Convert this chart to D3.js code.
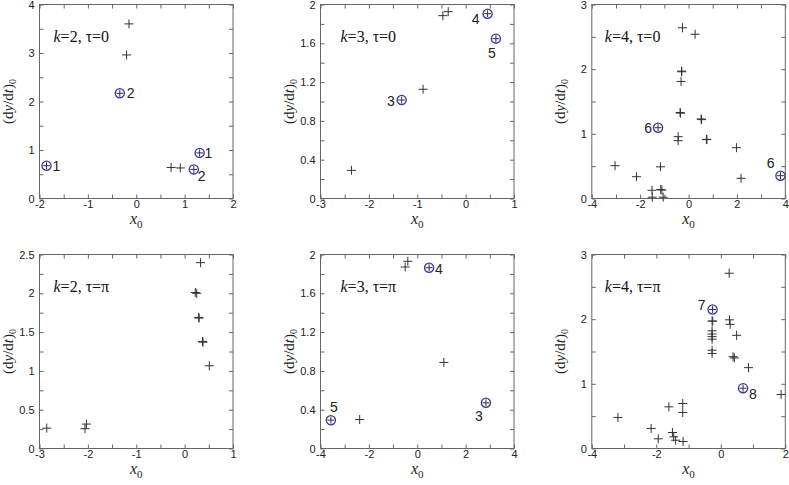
<!DOCTYPE html>
<html>
<head>
<meta charset="utf-8">
<script src="https://cdn.jsdelivr.net/npm/d3@7"></script>
<style>
  body { margin: 0; background: #fff; }
  .tick text { font-family: "Liberation Sans", Arial, sans-serif; font-size: 11px; fill: #222; }
  .tick line { stroke: #666; }
</style>
</head>
<body>
<svg id="chart" width="789" height="485"></svg>
<script>
// panel titles
const titleK = ["2", "3", "4", "2", "3", "4"];
const titleTau = ["0", "0", "0", "π", "π", "π"];

// axis ranges and tick steps [major, minor]
const xDomains = [[-2, 2], [-3, 1], [-4, 4], [-3, 1], [-4, 4], [-4, 2]];
const yDomains = [[0, 4], [0, 2], [0, 3], [0, 2.5], [0, 2], [0, 3]];
const xSteps = [[1, 0.5], [1, 0.5], [2, 1], [1, 0.5], [2, 1], [2, 1]];
const ySteps = [[1, 0.5], [0.4, 0.2], [1, 0.5], [0.5, 0.25], [0.4, 0.2], [1, 0.5]];

// "+" points, [x0, (dy/dt)0]
const plus1 = [[-0.15, 3.6], [-0.2, 2.96], [0.72, 0.64], [0.91, 0.63]];
const plus2 = [[-0.47, 1.885], [-0.36, 1.926], [-0.88, 1.126], [-2.36, 0.29]];
const plus3 = [[-0.25, 2.64], [0.27, 2.54], [-0.29, 1.97], [-0.28, 1.96], [-0.31, 1.81],
  [-0.35, 1.33], [-0.33, 1.32], [0.52, 1.23], [0.54, 1.22], [-0.43, 0.956], [-0.43, 0.894],
  [0.74, 0.915], [0.76, 0.91], [1.98, 0.786], [2.17, 0.312], [-3.04, 0.507], [-2.15, 0.337],
  [-1.16, 0.49], [-1.51, 0.127], [-1.15, 0.14], [-1.1, 0.13], [-1.5, 0.02], [-1.05, 0.02]];
const plus4 = [[-2.85, 0.262], [-2.03, 0.315], [-2.06, 0.255], [0.33, 2.395], [0.22, 2.01],
  [0.25, 2.0], [0.29, 1.69], [0.3, 1.68], [0.37, 1.38], [0.38, 1.37], [0.51, 1.066]];
const plus5 = [[-0.5, 1.871], [-0.39, 1.93], [1.1, 0.887], [-2.38, 0.299]];
const plus6 = [[0.26, 2.71], [-0.27, 1.97], [-0.25, 1.97], [-0.27, 1.82], [-0.27, 1.77],
  [-0.27, 1.73], [-0.27, 1.69], [-0.27, 1.52], [-0.27, 1.47], [0.27, 1.99], [0.29, 1.92],
  [0.49, 1.75], [0.38, 1.42], [0.42, 1.4], [0.86, 1.25], [1.87, 0.836], [-3.19, 0.48],
  [-1.61, 0.644], [-1.18, 0.696], [-1.18, 0.557], [-2.16, 0.31], [-1.94, 0.15],
  [-1.5, 0.247], [-1.46, 0.18], [-1.4, 0.128], [-1.17, 0.108]];

// circled points, [x0, (dy/dt)0, label]
const circ1 = [[-1.855, 0.676, "1"], [-0.34, 2.17, "2"], [1.31, 0.94, "1"], [1.19, 0.6, "2"]];
const circ2 = [[0.454, 1.905, "4"], [0.626, 1.648, "5"], [-1.322, 1.015, "3"]];
const circ3 = [[-1.26, 1.095, "6"], [3.8, 0.353, "6"]];
const circ4 = [];
const circ5 = [[0.49, 1.864, "4"], [2.84, 0.471, "3"], [-3.57, 0.292, "5"]];
const circ6 = [[-0.255, 2.15, "7"], [0.69, 0.933, "8"]];

const plusSets = [plus1, plus2, plus3, plus4, plus5, plus6];
const circSets = [circ1, circ2, circ3, circ4, circ5, circ6];

// where each circle label sits: [dx, dy, anchor]
const labelPlace = [
  [[6, 5, "start"], [7, 5, "start"], [5, 5, "start"], [4, 12, "start"]],
  [[-8, 10, "end"], [-4, 19, "middle"], [-7, 6, "end"]],
  [[-6, 5, "end"], [-6, -8, "end"]],
  [],
  [[6, 6, "start"], [-7, 18, "middle"], [3, -8, "middle"]],
  [[-7, 1, "end"], [6, 11, "start"]]
];

const colLeft = [39.5, 320.5, 591.8];
const rowTop = [4.5, 254.5];
const pw = 193.5, ph = 194;

const svg = d3.select("#chart");

function steps(dom, step) {
  const n = Math.round((dom[1] - dom[0]) / step);
  return d3.range(n + 1).map(i => +(dom[0] + i * step).toFixed(4));
}
function isMajor(v, dom, major) {
  const q = (v - dom[0]) / major;
  return Math.abs(q - Math.round(q)) < 1e-6;
}
const fmt = v => String(+v.toFixed(2));

function plusPath(size) {
  const h = size / 2;
  return `M${-h},0H${h}M0,${-h}V${h}`;
}

for (let i = 0; i < 6; i++) {
  const left = colLeft[i % 3], top = rowTop[Math.floor(i / 3)];
  const g = svg.append("g").attr("transform", `translate(${left},${top})`);

  const x = d3.scaleLinear().domain(xDomains[i]).range([0, pw]);
  const y = d3.scaleLinear().domain(yDomains[i]).range([ph, 0]);

  const xt = steps(xDomains[i], xSteps[i][1]);
  const yt = steps(yDomains[i], ySteps[i][1]);
  const xf = v => isMajor(v, xDomains[i], xSteps[i][0]) ? fmt(v) : "";
  const yf = v => isMajor(v, yDomains[i], ySteps[i][0]) ? fmt(v) : "";

  g.append("g").attr("transform", `translate(0,${ph})`)
    .call(d3.axisBottom(x).tickValues(xt).tickFormat(xf).tickSizeInner(-4).tickSizeOuter(0).tickPadding(2))
    .call(a => a.select(".domain").remove());
  g.append("g")
    .call(d3.axisTop(x).tickValues(xt).tickFormat("").tickSizeInner(-4).tickSizeOuter(0))
    .call(a => a.select(".domain").remove());
  g.append("g")
    .call(d3.axisLeft(y).tickValues(yt).tickFormat(yf).tickSizeInner(-4).tickSizeOuter(0).tickPadding(5))
    .call(a => a.select(".domain").remove());
  g.append("g").attr("transform", `translate(${pw},0)`)
    .call(d3.axisRight(y).tickValues(yt).tickFormat("").tickSizeInner(-4).tickSizeOuter(0))
    .call(a => a.select(".domain").remove());

  g.append("rect")
    .attr("width", pw).attr("height", ph)
    .attr("fill", "none").attr("stroke", "#666").attr("stroke-width", 1);

  // "+" markers
  g.append("g").selectAll("path")
    .data(plusSets[i])
    .join("path")
    .attr("transform", d => `translate(${x(d[0])},${y(d[1])})`)
    .attr("d", plusPath(9))
    .attr("stroke", "#333").attr("stroke-width", 1).attr("fill", "none");

  // circled points
  const cg = g.append("g").selectAll("g")
    .data(circSets[i])
    .join("g")
    .attr("transform", d => `translate(${x(d[0])},${y(d[1])})`);
  cg.append("circle").attr("r", 4.6)
    .attr("fill", "none").attr("stroke", "#3a3aa8").attr("stroke-width", 1.3);
  cg.append("path").attr("d", plusPath(7))
    .attr("stroke", "#333").attr("stroke-width", 1);
  cg.append("text")
    .attr("x", (d, j) => labelPlace[i][j][0])
    .attr("y", (d, j) => labelPlace[i][j][1])
    .attr("text-anchor", (d, j) => labelPlace[i][j][2])
    .attr("font-family", "Liberation Sans, Arial, sans-serif")
    .attr("font-size", 14).attr("fill", "#222")
    .text(d => d[2]);

  // panel title
  const t = g.append("text")
    .attr("x", i % 3 === 0 ? 14 : (i % 3 === 1 ? 20 : 13))
    .attr("y", 37)
    .attr("font-family", "Liberation Serif, Times New Roman, serif")
    .attr("font-size", 16).attr("fill", "#111");
  t.append("tspan").attr("font-style", "italic").text("k");
  t.append("tspan").text(`=${titleK[i]}, τ=${titleTau[i]}`);

  // axis titles
  const xl = g.append("text")
    .attr("x", pw / 2).attr("y", ph + 25)
    .attr("text-anchor", "middle")
    .attr("font-family", "Liberation Serif, Times New Roman, serif")
    .attr("font-size", 16).attr("fill", "#222");
  xl.append("tspan").attr("font-style", "italic").text("x");
  xl.append("tspan").attr("font-size", 11).attr("dy", 4).text("0");

  const yl = g.append("text")
    .attr("transform", `translate(-27,${ph / 2}) rotate(-90)`)
    .attr("text-anchor", "middle")
    .attr("font-family", "Liberation Serif, Times New Roman, serif")
    .attr("font-size", 15).attr("fill", "#222");
  yl.append("tspan").text("(d");
  yl.append("tspan").attr("font-style", "italic").text("y");
  yl.append("tspan").text("/d");
  yl.append("tspan").attr("font-style", "italic").text("t");
  yl.append("tspan").text(")");
  yl.append("tspan").attr("font-size", 10).attr("dy", 3).text("0");
}
</script>
</body>
</html>
